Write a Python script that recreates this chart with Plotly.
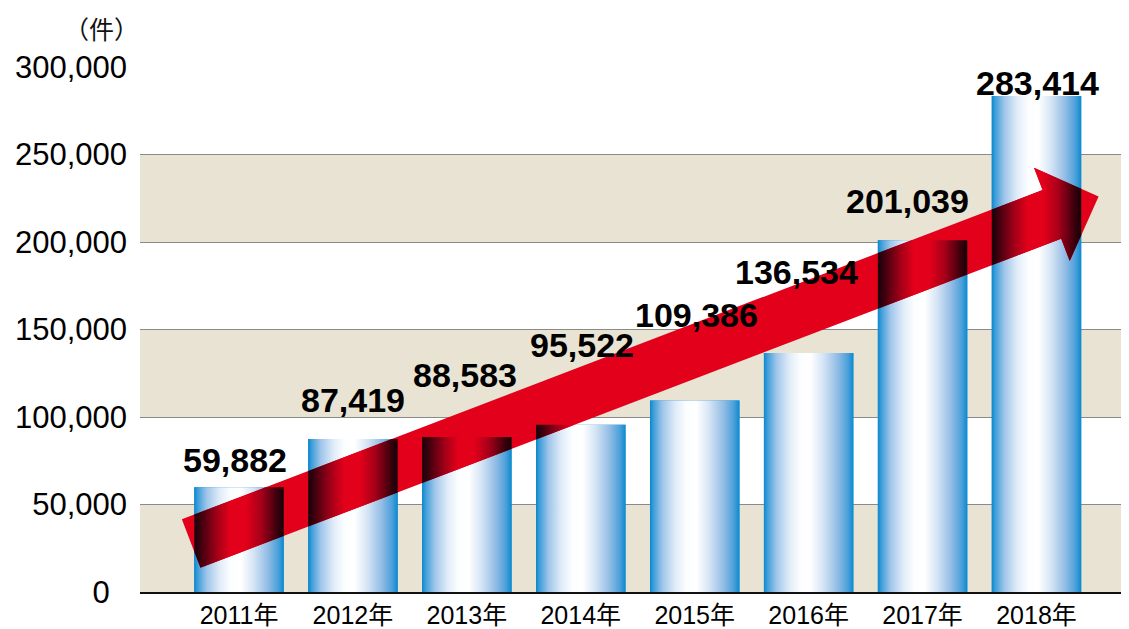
import plotly.graph_objects as go
import numpy as np

# ---------------- data ----------------
years = ["2011年", "2012年", "2013年", "2014年", "2015年", "2016年", "2017年", "2018年"]
counts = [59882, 87419, 88583, 95522, 109386, 136534, 201039, 283414]
value_labels = ["59,882", "87,419", "88,583", "95,522", "109,386", "136,534", "201,039", "283,414"]
y_tick_values = [0, 50000, 100000, 150000, 200000, 250000, 300000]
y_tick_labels = ["0\u00a0\u00a0", "50,000", "100,000", "150,000", "200,000", "250,000", "300,000"]
unit_label = "（件）"

# ---------------- layout / style ----------------
PAGE_OFF = 8  # default body margin of the html page
W, H = 1129 - PAGE_OFF, 629 - PAGE_OFF
ML, MR, MT, MB = 140 - PAGE_OFF, 0, 67 - PAGE_OFF, 37
XR = [-0.869, 7.812]
YR = [0, 300000]
BAR_W = 0.785
BAND_COLOR = "#e9e3d3"
band_ranges = [(0, 50000), (100000, 150000), (200000, 250000)]
RED = "#e2001a"
# label offsets (pixels) to keep labels clear of the arrow
label_dy = [27, 39, 62, 80, 86, 81, 39, 13]
label_dx = [-4, 0, -2, 1, 2, -12, -15, 1]

PW, PH = W - ML - MR, H - MT - MB


def to_px(x, y):
    return (ML + (x - XR[0]) / (XR[1] - XR[0]) * PW,
            MT + (YR[1] - y) / (YR[1] - YR[0]) * PH)


def to_data(px, py):
    return (XR[0] + (px - ML) / PW * (XR[1] - XR[0]),
            YR[1] - (py - MT) / PH * (YR[1] - YR[0]))


# arrow defined by tail centre and tip (data units), widths in pixels
arrow_tail = (-0.42, 27700)
arrow_tip = (7.545, 226000)
SHAFT_HALF, HEAD_HALF, HEAD_LEN = 26, 50, 50

t = np.array(to_px(*arrow_tail))
p = np.array(to_px(*arrow_tip))
u = (p - t) / np.linalg.norm(p - t)
n = np.array([-u[1], u[0]])
back = p - HEAD_LEN * u
arrow_px = [t - SHAFT_HALF * n, back - SHAFT_HALF * n, back - HEAD_HALF * n, p,
            back + HEAD_HALF * n, back + SHAFT_HALF * n, t + SHAFT_HALF * n]
arrow_data = [to_data(*q) for q in arrow_px]


def clip_poly(poly, xmin, xmax, ymin, ymax):
    def clip(pts, inside, inter):
        out = []
        if not pts:
            return out
        prev = pts[-1]
        for cur in pts:
            if inside(cur):
                if not inside(prev):
                    out.append(inter(prev, cur))
                out.append(cur)
            elif inside(prev):
                out.append(inter(prev, cur))
            prev = cur
        return out

    def ix(a, b, xv):
        r = (xv - a[0]) / (b[0] - a[0])
        return (xv, a[1] + r * (b[1] - a[1]))

    def iy(a, b, yv):
        r = (yv - a[1]) / (b[1] - a[1])
        return (a[0] + r * (b[0] - a[0]), yv)

    pts = list(poly)
    pts = clip(pts, lambda q: q[0] >= xmin, lambda a, b: ix(a, b, xmin))
    pts = clip(pts, lambda q: q[0] <= xmax, lambda a, b: ix(a, b, xmax))
    pts = clip(pts, lambda q: q[1] >= ymin, lambda a, b: iy(a, b, ymin))
    pts = clip(pts, lambda q: q[1] <= ymax, lambda a, b: iy(a, b, ymax))
    return pts


bar_scale = [[0.0, "#0a88cf"], [0.04, "#3f9ed9"], [0.14, "#9fc5ea"], [0.28, "#dfebf8"],
             [0.40, "#fbfdff"], [0.52, "#ffffff"], [0.66, "#d6e5f5"], [0.82, "#93bde5"],
             [0.94, "#4a9fda"], [1.0, "#0a8ad0"]]
arrow_scale = [[0.0, "#16000a"], [0.1, "#4d0010"], [0.25, "#a00018"], [0.4, "#e2001a"],
               [0.58, "#e2001a"], [0.75, "#a50018"], [0.9, "#4a000e"], [1.0, "#120008"]]

fig = go.Figure()

xs = list(range(len(years)))
fig.add_trace(go.Bar(x=xs, y=counts, width=BAR_W, marker=dict(color="#0a88cf", line=dict(width=0)),
                     hoverinfo="skip", showlegend=False))

for i, v in zip(xs, counts):
    x0, x1 = i - BAR_W / 2, i + BAR_W / 2
    fig.add_trace(go.Scatter(
        x=[x0, x1, x1, x0, x0], y=[0, 0, v, v, 0], mode="lines", fill="toself",
        line=dict(width=0, color="rgba(0,0,0,0)"),
        fillgradient=dict(type="horizontal", colorscale=bar_scale, start=x0, stop=x1),
        hoverinfo="skip", showlegend=False))

ax = [q[0] for q in arrow_data] + [arrow_data[0][0]]
ay = [q[1] for q in arrow_data] + [arrow_data[0][1]]
fig.add_trace(go.Scatter(x=ax, y=ay, mode="lines", fill="toself", fillcolor=RED,
                         line=dict(width=0, color="rgba(0,0,0,0)"),
                         hoverinfo="skip", showlegend=False))

for i, v in zip(xs, counts):
    x0, x1 = i - BAR_W / 2, i + BAR_W / 2
    poly = clip_poly(arrow_data, x0, x1, 0, v)
    if len(poly) >= 3:
        px_ = [q[0] for q in poly] + [poly[0][0]]
        py_ = [q[1] for q in poly] + [poly[0][1]]
        fig.add_trace(go.Scatter(
            x=px_, y=py_, mode="lines", fill="toself",
            line=dict(width=0, color="rgba(0,0,0,0)"),
            fillgradient=dict(type="horizontal", colorscale=arrow_scale, start=x0, stop=x1),
            hoverinfo="skip", showlegend=False))

shapes = []
for y0, y1 in band_ranges:
    shapes.append(dict(type="rect", xref="paper", x0=0, x1=1, yref="y", y0=y0, y1=y1,
                       fillcolor=BAND_COLOR, line=dict(width=0), layer="below"))

annotations = []
for i, (v, lab) in enumerate(zip(counts, value_labels)):
    annotations.append(dict(x=i, y=v, xref="x", yref="y", text=lab, showarrow=False,
                            xanchor="center", yanchor="middle",
                            xshift=label_dx[i], yshift=label_dy[i],
                            font=dict(family="Liberation Sans, Arial, sans-serif", size=34,
                                      color="#000000", weight=700)))
annotations.append(dict(x=(101 - 140) / PW, y=1 + (67 - 28) / PH, xref="paper", yref="paper",
                        text=unit_label, showarrow=False, xanchor="center", yanchor="middle",
                        font=dict(family="Noto Sans CJK JP, sans-serif", size=25, color="#111111")))

fig.update_layout(
    width=W, height=H,
    margin=dict(l=ML, r=MR, t=MT, b=MB, pad=0, autoexpand=False),
    paper_bgcolor="white", plot_bgcolor="white",
    barmode="overlay",
    showlegend=False,
    shapes=shapes,
    annotations=annotations,
    xaxis=dict(range=XR, tickmode="array", tickvals=xs, ticktext=years,
               showgrid=False, zeroline=False, showline=True, linecolor="#111111", linewidth=2,
               ticks="", layer="below traces", fixedrange=True, automargin=False,
               tickfont=dict(family="Liberation Sans, Noto Sans CJK JP, sans-serif", size=25,
                             color="#000000")),
    yaxis=dict(range=YR, tickmode="array", tickvals=y_tick_values, ticktext=y_tick_labels,
               showgrid=True, gridcolor="#8a8a8a", gridwidth=1, zeroline=False, showline=False,
               ticks="", ticklabelstandoff=12, fixedrange=True, automargin=False,
               tickfont=dict(family="Liberation Sans, Arial, sans-serif", size=31, color="#000000")),
)

fig.write_html("out.html")
